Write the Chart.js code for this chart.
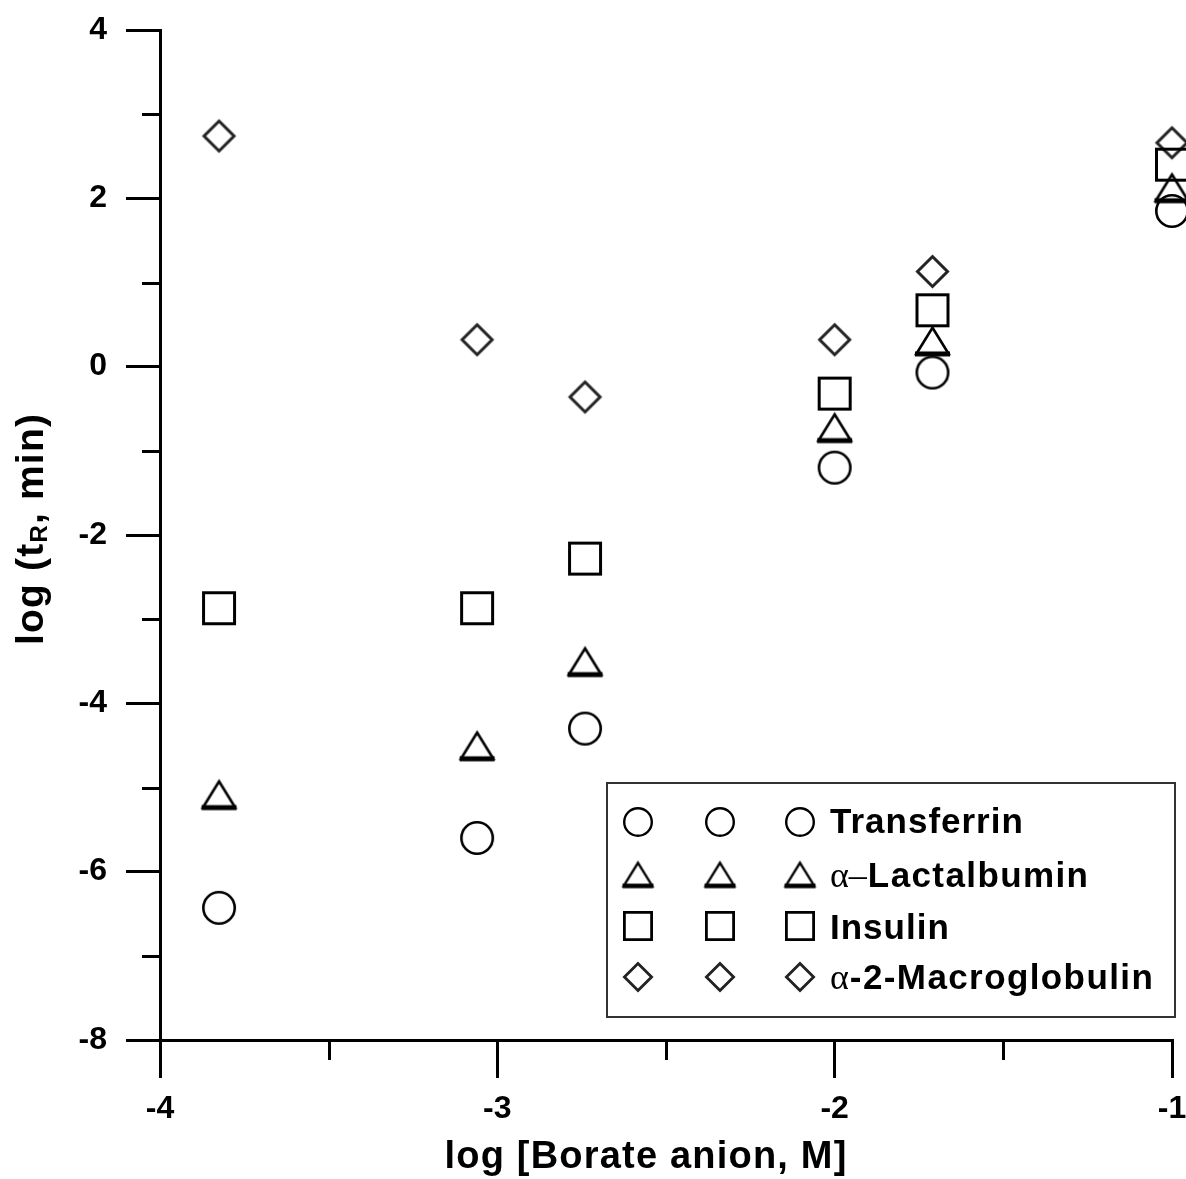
<!DOCTYPE html>
<html>
<head>
<meta charset="utf-8">
<script src="https://cdn.jsdelivr.net/npm/chart.js@4.4.1/dist/chart.umd.min.js"></script>
<style>
  html, body { margin: 0; padding: 0; background: #fff; }
  #wrap { position: relative; width: 1186px; height: 1179px; }
</style>
</head>
<body>
<div id="wrap"><canvas id="c" width="1186" height="1179"></canvas></div>
<script>
// log of borate anion concentration (M)
const borateLog = [-3.825, -3.06, -2.74, -2.0, -1.71, -1.0];

// log retention time (min) per protein
const transferrin   = [-6.43, -5.60, -4.30, -1.20, -0.07, 1.85];
const lactalbumin   = [-5.09, -4.51, -3.51, -0.73, 0.30, 2.12];
const insulin       = [-2.87, -2.87, -2.28, -0.32, 0.67, 2.40];
const macroglobulin = [2.74, 0.32, -0.36, 0.32, 1.13, 2.66];

// axis ticks
const xMajorTicks = [-4, -3, -2, -1];
const xMinorTicks = [-3.5, -2.5, -1.5];
const yMajorTicks = [-8, -6, -4, -2, 0, 2, 4];
const yMinorTicks = [-7, -5, -3, -1, 1, 3];

// legend entries: [greek prefix, rest of name]
const legendNames = [
  ['', 'Transferrin'],
  ['\u03B1\u2013', 'Lactalbumin'],
  ['', 'Insulin'],
  ['\u03B1', '-2-Macroglobulin']
];

const SANS = '"Liberation Sans", Arial, sans-serif';
const SERIF = '"Liberation Serif", "Times New Roman", serif';

// open marker glyphs drawn on small canvases
function marker(shape, size, lw, color) {
  const pad = 3;
  const S = Math.round(size + pad * 2);
  const c = document.createElement('canvas');
  c.width = S; c.height = S;
  const g = c.getContext('2d');
  g.strokeStyle = color;
  g.lineWidth = lw;
  g.lineJoin = 'miter';
  const m = S / 2;
  const h = size / 2 - lw / 2;
  g.beginPath();
  if (shape === 'circle') {
    g.arc(m, m, h, 0, Math.PI * 2);
    g.stroke();
  } else if (shape === 'square') {
    g.rect(m - h, m - h, 2 * h, 2 * h);
    g.stroke();
  } else if (shape === 'diamond') {
    g.moveTo(m, m - h); g.lineTo(m + h, m); g.lineTo(m, m + h); g.lineTo(m - h, m); g.closePath();
    g.stroke();
  } else if (shape === 'triangle') {
    const H = size * 0.86;
    const top = m - H / 2 + lw / 2;
    const bot = m + H / 2 - lw;
    g.moveTo(m, top); g.lineTo(m + h, bot); g.lineTo(m - h, bot); g.closePath();
    g.stroke();
    // heavier base edge
    g.beginPath();
    g.lineWidth = lw * 1.9;
    g.moveTo(m - h - lw / 2, bot); g.lineTo(m + h + lw / 2, bot);
    g.stroke();
  }
  return c;
}

const plotMarkers = {
  circle: marker('circle', 34, 2.6, '#000'),
  triangle: marker('triangle', 35, 2.6, '#000'),
  square: marker('square', 34, 3, '#000'),
  diamond: marker('diamond', 33, 3, '#222')
};
const legendMarkers = [
  marker('circle', 30, 2.4, '#000'),
  marker('triangle', 31, 2.4, '#000'),
  marker('square', 30, 2.8, '#000'),
  marker('diamond', 30, 2.8, '#222')
];

function pts(ys) { return borateLog.map((x, i) => ({ x: x, y: ys[i] })); }

const extras = {
  id: 'extras',
  afterDraw(chart) {
    const ctx = chart.ctx;
    const xs = chart.scales.x, ys = chart.scales.y;
    const area = chart.chartArea;
    ctx.save();
    // minor ticks
    ctx.strokeStyle = '#000';
    ctx.lineWidth = 3;
    ctx.beginPath();
    xMinorTicks.forEach(v => {
      const px = Math.round(xs.getPixelForValue(v)) + 0.5;
      ctx.moveTo(px, area.bottom); ctx.lineTo(px, area.bottom + 20);
    });
    yMinorTicks.forEach(v => {
      const py = Math.round(ys.getPixelForValue(v)) + 0.5;
      ctx.moveTo(area.left - 18, py); ctx.lineTo(area.left, py);
    });
    ctx.stroke();

    // x axis title
    ctx.fillStyle = '#000';
    ctx.font = 'bold 38px ' + SANS;
    ctx.letterSpacing = '1.2px';
    ctx.textAlign = 'center';
    ctx.textBaseline = 'alphabetic';
    ctx.fillText('log [Borate anion, M]', 646, 1168);

    // y axis title with subscript
    const f1 = 'bold 39px ' + SANS, f2 = 'bold 24px ' + SANS;
    const p1 = 'log (t', sub = 'R', p2 = ', min)';
    ctx.textAlign = 'left';
    ctx.font = f1; const w1 = ctx.measureText(p1).width; const w3 = ctx.measureText(p2).width;
    ctx.font = f2; const w2 = ctx.measureText(sub).width;
    const total = w1 + w2 + w3;
    ctx.save();
    ctx.translate(43, 529 + total / 2);
    ctx.rotate(-Math.PI / 2);
    ctx.font = f1; ctx.fillText(p1, 0, 0);
    ctx.font = f2; ctx.fillText(sub, w1, 4);
    ctx.font = f1; ctx.fillText(p2, w1 + w2, 0);
    ctx.restore();

    // legend
    ctx.letterSpacing = '0px';
    ctx.strokeStyle = '#333';
    ctx.lineWidth = 2;
    ctx.strokeRect(607, 783, 568, 234);
    const cols = [638, 720, 800];
    const rows = [822, 875, 926, 977];
    const bases = [833, 887, 939, 989];
    legendNames.forEach((nm, i) => {
      const img = legendMarkers[i];
      cols.forEach(cx => ctx.drawImage(img, cx - img.width / 2, rows[i] - img.height / 2));
      let tx = 830;
      if (nm[0]) {
        ctx.font = '36px ' + SERIF;
        ctx.letterSpacing = '0px';
        ctx.fillText(nm[0], tx, bases[i]);
        tx += ctx.measureText(nm[0]).width + 1;
      }
      ctx.font = 'bold 35px ' + SANS;
      ctx.letterSpacing = i === 0 || i === 2 ? '1px' : '1.4px';
      ctx.fillText(nm[1], tx, bases[i]);
    });
    ctx.restore();
  }
};

const tickFont = { family: SANS, size: 32, weight: 'bold' };

new Chart(document.getElementById('c'), {
  type: 'scatter',
  data: {
    datasets: [
      { label: 'Transferrin', data: pts(transferrin), pointStyle: plotMarkers.circle, clip: false },
      { label: 'α–Lactalbumin', data: pts(lactalbumin), pointStyle: plotMarkers.triangle, clip: false },
      { label: 'Insulin', data: pts(insulin), pointStyle: plotMarkers.square, clip: false },
      { label: 'α-2-Macroglobulin', data: pts(macroglobulin), pointStyle: plotMarkers.diamond, clip: false }
    ]
  },
  options: {
    responsive: false,
    animation: false,
    events: [],
    layout: { padding: { top: 30, right: 14, left: 0, bottom: 0 } },
    plugins: { legend: { display: false }, tooltip: { enabled: false }, title: { display: false } },
    scales: {
      x: {
        type: 'linear', min: -4, max: -1,
        afterBuildTicks: s => { s.ticks = xMajorTicks.map(v => ({ value: v })); },
        afterFit: s => { s.height = 139; s.paddingLeft = 0; s.paddingRight = 0; },
        ticks: { font: tickFont, color: '#000', padding: 12, maxRotation: 0, autoSkip: false },
        grid: { display: true, drawOnChartArea: false, drawTicks: true, tickLength: 38, color: '#000', lineWidth: 3, tickWidth: 3 },
        border: { display: true, color: '#000', width: 3 }
      },
      y: {
        type: 'linear', min: -8, max: 4,
        afterBuildTicks: s => { s.ticks = yMajorTicks.map(v => ({ value: v })); },
        afterFit: s => { s.width = 160; s.paddingTop = 0; s.paddingBottom = 0; },
        ticks: { font: tickFont, color: '#000', padding: 19, autoSkip: false },
        grid: { display: true, drawOnChartArea: false, drawTicks: true, tickLength: 34, color: '#000', lineWidth: 3, tickWidth: 3 },
        border: { display: true, color: '#000', width: 3 }
      }
    }
  },
  plugins: [extras]
});
</script>
</body>
</html>
